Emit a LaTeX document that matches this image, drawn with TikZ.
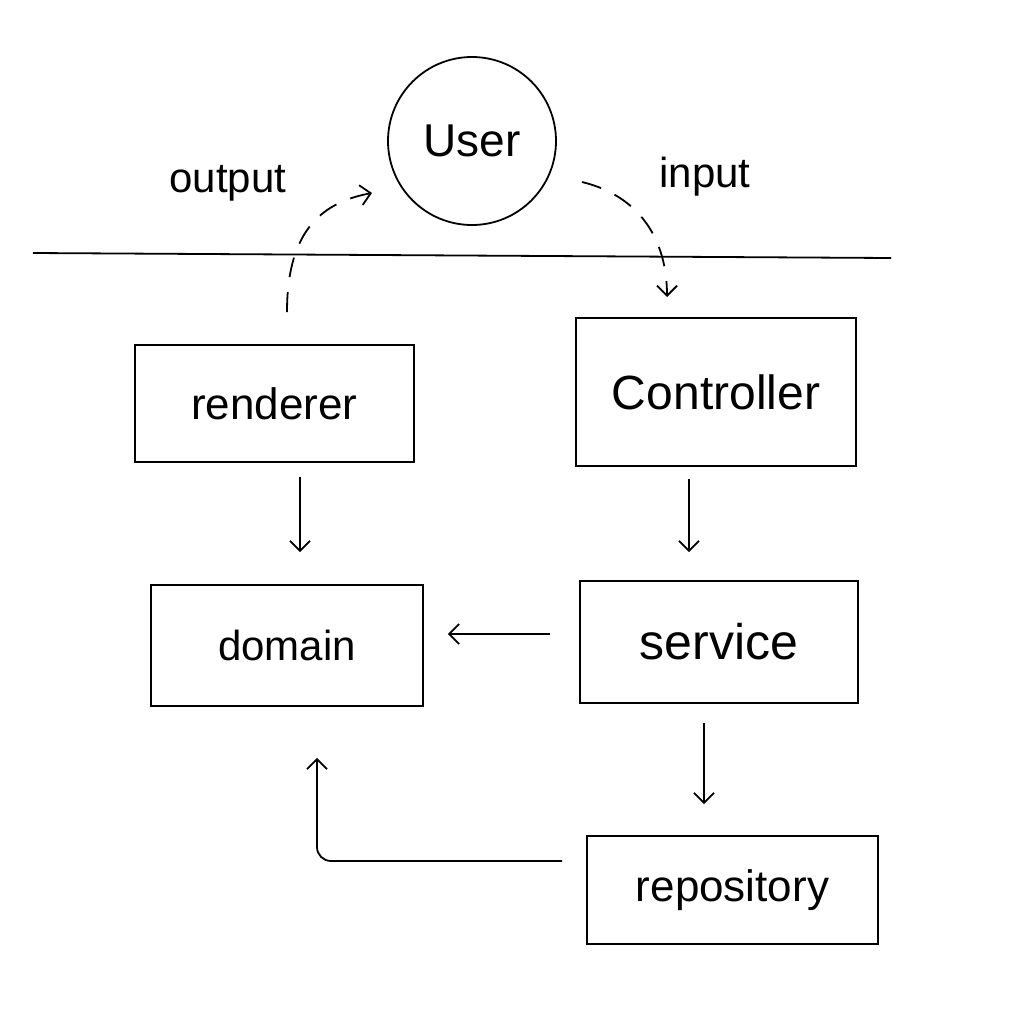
\documentclass[tikz,border=0pt]{standalone}
\usepackage{fontspec}
\setmainfont{Liberation Sans}
\usetikzlibrary{arrows.meta}
\begin{document}
\begin{tikzpicture}[x=1pt,y=-1pt,
  line width=1.8pt,
  box/.style={draw, rectangle, inner sep=0pt, font=\fontsize{44}{48}\selectfont},
  arr/.style={-{Straight Barb[length=10pt,width=20pt,line width=1.8pt]}},
  dasharr/.style={arr, dash pattern=on 20pt off 15pt},
  lbl/.style={inner sep=0pt, font=\fontsize{42}{46}\selectfont}]
\useasboundingbox (0,0) rectangle (1036,1010);

\node[draw, circle, minimum size=168pt, inner sep=0pt, font=\fontsize{46}{50}\selectfont] (user) at (472,141) {User};
\node[lbl] (outlbl) at (228,183) {output};
\node[lbl] (inlbl) at (705,177) {input};

\coordinate (lineL) at (33,253);
\coordinate (lineR) at (891,258);
\draw (lineL) -- (lineR);

\node[box, minimum width=279pt, minimum height=117pt] (renderer) at (274.5,403.5) {renderer};
\node[box, minimum width=280pt, minimum height=148pt, font=\fontsize{48}{52}\selectfont] (controller) at (716,392) {Controller};
\node[box, minimum width=272pt, minimum height=121pt, font=\fontsize{42}{46}\selectfont] (domain) at (287,645.5) {domain};
\node[box, minimum width=278pt, minimum height=122pt, font=\fontsize{50}{54}\selectfont] (service) at (719,642) {service};
\node[box, minimum width=291pt, minimum height=108pt] (repository) at (732.5,890) {repository};

% dashed arcs to and from the user
\coordinate (outStart) at (287,312);
\coordinate (outEnd) at (372,193);
\draw[dasharr] (outStart) .. controls (287,235) and (318,203) .. (outEnd);
\coordinate (inStart) at (582,182);
\coordinate (inEnd) at (667,297);
\draw[dasharr] (inStart) .. controls (640,196) and (667,240) .. (inEnd);

% solid arrows
\draw[arr, shorten <=14pt, shorten >=32pt] ([xshift=25.5pt]renderer.south) -- ([xshift=13pt]domain.north);
\draw[arr, shorten <=12pt, shorten >=28pt] ([xshift=-27pt]controller.south) -- ([xshift=-30pt]service.north);
\draw[arr, shorten <=29pt, shorten >=24pt] ([yshift=8pt]service.west) -- ([yshift=11.5pt]domain.east);
\draw[arr, shorten <=19pt, shorten >=31pt] ([xshift=-15pt]service.south) -- ([xshift=-28.5pt]repository.north);
\draw[arr, rounded corners=14pt, shorten <=24pt, shorten >=51pt] ([yshift=29pt]repository.west) -| ([xshift=30pt]domain.south);
\end{tikzpicture}
\end{document}
